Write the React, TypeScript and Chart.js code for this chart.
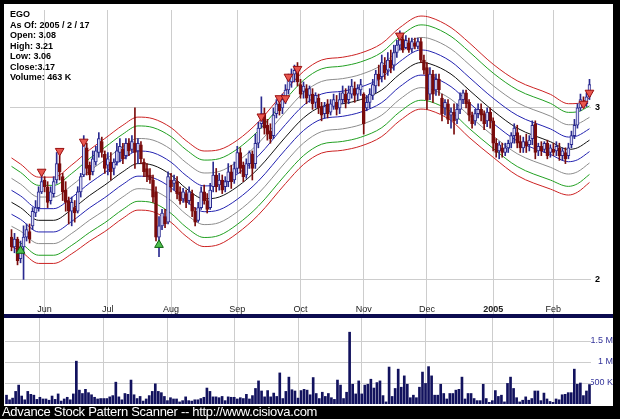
import React, { useEffect, useRef } from 'react';
import { Chart, registerables } from 'chart.js';
Chart.register(...registerables);

const FONT = "'Liberation Sans', Arial, sans-serif";
const HOLIDAYS = ['2004-05-31', '2004-06-11', '2004-07-05', '2004-09-06', '2004-11-25', '2004-12-24', '2005-01-17'];
const monthLabels = ['Jun', 'Jul', 'Aug', 'Sep', 'Oct', 'Nov', 'Dec', '2005', 'Feb'];
const priceTicks = [2, 3];
const volumeTicks = [500000, 1000000, 1500000];
const volumeTickLabels = ['500 K', '1 M', '1.5 M'];
const infoLines = ['EGO', 'As Of: 2005 / 2 / 17', 'Open: 3.08', 'High: 3.21', 'Low: 3.06', 'Close:3.17', 'Volume: 463 K'];
const footerText = 'Advance Stock Pattern Scanner -- http://www.cisiova.com';

const openP = [
  2.21, 2.16, 2.20, 2.10, 2.16, 2.21, 2.24, 2.27, 2.34, 2.37,
  2.46, 2.53, 2.49, 2.41, 2.45, 2.53, 2.63, 2.55, 2.47, 2.41,
  2.35, 2.37, 2.35, 2.46, 2.56, 2.73, 2.62, 2.58, 2.64, 2.70,
  2.77, 2.69, 2.62, 2.64, 2.60, 2.64, 2.70, 2.72, 2.68, 2.76,
  2.72, 2.76, 2.71, 2.75, 2.64, 2.60, 2.56, 2.53, 2.46, 2.21,
  2.27, 2.32, 2.29, 2.53, 2.51, 2.52, 2.46, 2.42, 2.45, 2.41,
  2.45, 2.35, 2.30, 2.37, 2.46, 2.41, 2.37, 2.49, 2.56, 2.50,
  2.53, 2.49, 2.52, 2.58, 2.53, 2.60, 2.70, 2.62, 2.56, 2.63,
  2.69, 2.63, 2.76, 2.89, 2.96, 2.88, 2.84, 2.81, 2.96, 3.03,
  3.00, 3.06, 3.13, 3.19, 3.25, 3.28, 3.17, 3.12, 3.14, 3.09,
  3.10, 3.04, 3.07, 3.01, 2.96, 3.03, 2.97, 3.01, 3.04, 3.00,
  3.06, 3.10, 3.06, 3.10, 3.14, 3.10, 3.13, 3.10, 3.00, 3.04,
  3.09, 3.16, 3.25, 3.23, 3.32, 3.28, 3.36, 3.32, 3.42, 3.48,
  3.53, 3.46, 3.50, 3.45, 3.50, 3.47, 3.51, 3.36, 3.30, 3.10,
  3.25, 3.13, 3.21, 3.07, 3.00, 3.03, 2.95, 2.97, 2.92, 2.99,
  3.06, 3.11, 3.04, 2.95, 2.91, 2.96, 2.99, 2.96, 2.91, 2.97,
  2.91, 2.76, 2.71, 2.73, 2.70, 2.73, 2.76, 2.81, 2.83, 2.77,
  2.73, 2.77, 2.75, 2.79, 2.89, 2.71, 2.74, 2.72, 2.76, 2.70,
  2.72, 2.71, 2.73, 2.68, 2.70, 2.68, 2.75, 2.81, 2.88, 3.00,
  3.04, 3.03, 3.08,
];
const highP = [
  2.25, 2.23, 2.21, 2.19, 2.27, 2.28, 2.28, 2.37, 2.41, 2.49,
  2.56, 2.55, 2.52, 2.49, 2.55, 2.70, 2.68, 2.57, 2.52, 2.43,
  2.43, 2.41, 2.49, 2.57, 2.81, 2.76, 2.64, 2.71, 2.74, 2.83,
  2.80, 2.71, 2.70, 2.70, 2.66, 2.76, 2.79, 2.76, 2.79, 2.79,
  2.81, 3.00, 2.79, 2.77, 2.66, 2.63, 2.60, 2.56, 2.49, 2.32,
  2.36, 2.36, 2.58, 2.57, 2.56, 2.55, 2.49, 2.48, 2.47, 2.49,
  2.47, 2.37, 2.40, 2.49, 2.50, 2.45, 2.51, 2.64, 2.60, 2.57,
  2.56, 2.55, 2.63, 2.62, 2.64, 2.74, 2.73, 2.64, 2.66, 2.71,
  2.71, 2.82, 2.90, 3.08, 3.00, 2.92, 2.89, 3.00, 3.06, 3.08,
  3.10, 3.17, 3.25, 3.29, 3.32, 3.34, 3.21, 3.19, 3.17, 3.16,
  3.14, 3.11, 3.10, 3.04, 3.04, 3.06, 3.06, 3.10, 3.09, 3.11,
  3.16, 3.14, 3.16, 3.21, 3.19, 3.17, 3.21, 3.11, 3.09, 3.14,
  3.21, 3.28, 3.32, 3.40, 3.38, 3.42, 3.44, 3.48, 3.52, 3.60,
  3.57, 3.56, 3.54, 3.54, 3.54, 3.54, 3.54, 3.40, 3.34, 3.30,
  3.28, 3.25, 3.25, 3.10, 3.06, 3.06, 3.00, 3.03, 3.03, 3.11,
  3.13, 3.13, 3.06, 2.97, 2.99, 3.03, 3.03, 2.98, 3.00, 3.00,
  2.93, 2.79, 2.77, 2.76, 2.76, 2.78, 2.83, 2.89, 2.88, 2.81,
  2.80, 2.82, 2.81, 2.91, 2.91, 2.76, 2.77, 2.77, 2.78, 2.75,
  2.76, 2.77, 2.76, 2.73, 2.73, 2.76, 2.84, 2.92, 3.03, 3.10,
  3.08, 3.11, 3.21,
];
const lowP = [
  2.14, 2.13, 2.07, 2.08, 2.00, 2.19, 2.18, 2.25, 2.32, 2.35,
  2.45, 2.46, 2.37, 2.39, 2.43, 2.51, 2.53, 2.41, 2.35, 2.28,
  2.27, 2.29, 2.34, 2.43, 2.55, 2.56, 2.53, 2.56, 2.62, 2.67,
  2.67, 2.57, 2.56, 2.53, 2.56, 2.62, 2.64, 2.63, 2.66, 2.68,
  2.70, 2.60, 2.63, 2.63, 2.55, 2.52, 2.51, 2.40, 2.19, 2.11,
  2.25, 2.26, 2.28, 2.46, 2.47, 2.42, 2.39, 2.40, 2.37, 2.39,
  2.32, 2.27, 2.29, 2.36, 2.39, 2.34, 2.36, 2.46, 2.46, 2.47,
  2.45, 2.46, 2.49, 2.48, 2.51, 2.57, 2.57, 2.52, 2.54, 2.60,
  2.53, 2.60, 2.73, 2.86, 2.82, 2.78, 2.76, 2.79, 2.93, 2.95,
  2.96, 3.03, 3.10, 3.15, 3.19, 3.16, 3.07, 3.07, 3.03, 3.04,
  2.99, 3.00, 2.96, 2.91, 2.93, 2.93, 2.95, 2.99, 2.95, 2.96,
  3.03, 3.00, 3.03, 3.07, 3.04, 3.06, 3.09, 2.82, 2.98, 3.00,
  3.06, 3.11, 3.16, 3.19, 3.21, 3.24, 3.26, 3.28, 3.38, 3.44,
  3.42, 3.45, 3.42, 3.42, 3.45, 3.45, 3.34, 3.25, 2.99, 3.06,
  3.04, 3.09, 3.09, 2.91, 2.95, 2.89, 2.86, 2.82, 2.89, 2.96,
  3.03, 3.00, 2.91, 2.86, 2.88, 2.93, 2.91, 2.85, 2.87, 2.86,
  2.71, 2.67, 2.66, 2.67, 2.68, 2.70, 2.73, 2.76, 2.73, 2.70,
  2.70, 2.70, 2.71, 2.75, 2.66, 2.68, 2.68, 2.70, 2.66, 2.67,
  2.68, 2.68, 2.65, 2.65, 2.63, 2.66, 2.73, 2.79, 2.86, 2.98,
  3.00, 3.01, 3.06,
];
const closeP = [
  2.16, 2.20, 2.09, 2.16, 2.21, 2.25, 2.20, 2.35, 2.37, 2.46,
  2.52, 2.49, 2.40, 2.46, 2.52, 2.63, 2.58, 2.46, 2.40, 2.35,
  2.40, 2.34, 2.46, 2.55, 2.76, 2.60, 2.56, 2.66, 2.71, 2.79,
  2.70, 2.60, 2.66, 2.58, 2.64, 2.71, 2.74, 2.66, 2.76, 2.71,
  2.77, 2.70, 2.76, 2.66, 2.58, 2.55, 2.53, 2.43, 2.21, 2.27,
  2.34, 2.28, 2.55, 2.49, 2.53, 2.45, 2.41, 2.46, 2.40, 2.46,
  2.35, 2.29, 2.37, 2.46, 2.41, 2.36, 2.47, 2.56, 2.49, 2.53,
  2.47, 2.52, 2.58, 2.52, 2.60, 2.70, 2.60, 2.55, 2.63, 2.70,
  2.60, 2.76, 2.86, 2.96, 2.86, 2.82, 2.79, 2.95, 3.03, 2.98,
  3.06, 3.13, 3.21, 3.25, 3.28, 3.19, 3.10, 3.16, 3.07, 3.14,
  3.03, 3.09, 3.00, 2.95, 3.01, 2.96, 3.03, 3.06, 2.99, 3.06,
  3.11, 3.04, 3.11, 3.16, 3.09, 3.14, 3.17, 2.89, 3.04, 3.10,
  3.17, 3.25, 3.21, 3.34, 3.26, 3.36, 3.30, 3.42, 3.48, 3.54,
  3.44, 3.52, 3.44, 3.51, 3.47, 3.51, 3.36, 3.28, 3.06, 3.25,
  3.10, 3.21, 3.13, 2.96, 3.04, 2.92, 2.97, 2.91, 2.99, 3.06,
  3.11, 3.03, 2.95, 2.89, 2.96, 2.99, 2.95, 2.89, 2.97, 2.91,
  2.76, 2.70, 2.75, 2.70, 2.73, 2.76, 2.81, 2.86, 2.76, 2.73,
  2.77, 2.74, 2.78, 2.88, 2.70, 2.74, 2.71, 2.76, 2.68, 2.73,
  2.70, 2.74, 2.68, 2.71, 2.66, 2.73, 2.81, 2.88, 3.00, 3.06,
  3.02, 3.08, 3.17,
];
const volumeK = [
  210, 100, 140, 300, 450, 190, 100, 300, 230, 210,
  110, 160, 120, 120, 90, 190, 110, 240, 70, 120,
  160, 100, 240, 1020, 330, 250, 350, 270, 220, 160,
  120, 130, 130, 130, 170, 200, 520, 170, 100, 250,
  230, 570, 220, 130, 180, 70, 120, 200, 300, 480,
  300, 270, 180, 80, 150, 120, 120, 50, 80, 170,
  80, 70, 100, 100, 130, 160, 380, 300, 170, 170,
  150, 180, 80, 170, 160, 160, 120, 150, 130, 230,
  120, 200, 370, 550, 310, 170, 320, 170, 260, 180,
  740, 130, 300, 640, 340, 310, 140, 320, 350, 330,
  220, 630, 250, 130, 280, 180, 250, 150, 110, 570,
  450, 130, 280, 1710, 470, 240, 550, 240, 450, 470,
  590, 380, 510, 550, 200, 50, 880, 180, 370, 830,
  400, 670, 470, 150, 210, 150, 400, 760, 490, 890,
  670, 210, 210, 470, 250, 120, 250, 250, 330, 350,
  640, 120, 250, 250, 130, 80, 80, 470, 130, 40,
  80, 320, 180, 210, 50, 490, 640, 370, 150, 50,
  90, 170, 90, 130, 310, 310, 80, 260, 120, 60,
  40, 120, 100, 220, 230, 270, 270, 830, 470, 500,
  200, 310, 463,
];
const sellIdx = [10, 16, 24, 83, 89, 91, 92, 95, 129, 190, 192];
const sellVal = [2.58, 2.71, 2.77, 2.94, 3.07, 3.07, 3.23, 3.29, 3.56, 3.03, 3.11];
const buyIdx = [3, 49];
const buyVal = [2.14, 2.17];

const bandIdx = [0, 3, 9, 14, 20, 26, 31, 37, 42, 47, 53, 58, 64, 69, 75, 82, 91, 97, 103, 110, 116, 123, 129, 136, 139, 146, 152, 160, 168, 179, 185, 188, 192];
const bandMid = [2.40, 2.37, 2.30, 2.30, 2.36, 2.44, 2.50, 2.58, 2.63, 2.62, 2.56, 2.48, 2.42, 2.43, 2.49, 2.60, 2.80, 2.93, 3.01, 3.03, 3.06, 3.13, 3.25, 3.34, 3.33, 3.25, 3.13, 2.98, 2.86, 2.77, 2.72, 2.73, 2.78];
const bandSpread = [10.5, 10.3, 10.2, 10.2, 10.5, 10.8, 11, 11, 11, 11, 11.2, 11.3, 11.3, 11.2, 11, 11, 11, 11, 11, 11, 11, 11, 11, 11, 11, 11, 11.2, 11, 11.2, 11.2, 10.8, 10.5, 10];
const bandLevels = [1, 0.81, 0.54, 0.27, 0, -0.27, -0.54, -0.81, -1];
const bandColors = ['#cc2222', '#22a022', '#8c8c8c', '#2222b0', '#111111', '#2222b0', '#8c8c8c', '#22a022', '#cc2222'];

const N = closeP.length;

function tradingDays(n: number): string[] {
  const out: string[] = [];
  const d = new Date(Date.UTC(2004, 4, 14));
  while (out.length < n) {
    const dow = d.getUTCDay();
    const iso = d.toISOString().slice(0, 10);
    if (dow !== 0 && dow !== 6 && !HOLIDAYS.includes(iso)) out.push(iso);
    d.setUTCDate(d.getUTCDate() + 1);
  }
  return out;
}
const categories = tradingDays(N);
const monthIdx: number[] = [];
categories.forEach((c, i) => {
  if (i > 0 && c.slice(5, 7) !== categories[i - 1].slice(5, 7)) monthIdx.push(i);
});
const monthLabelAt: Record<number, string> = {};
monthIdx.forEach((idx, j) => { monthLabelAt[idx] = monthLabels[j]; });

const GRID = '#cdcdcd';

export default function App() {
  const priceRef = useRef<HTMLCanvasElement>(null);
  const volRef = useRef<HTMLCanvasElement>(null);

  useEffect(() => {
    const up = closeP.map((c, i) => c >= openP[i]);
    const wicks = lowP.map((l, i) => [l, highP[i]]);
    const bodies = openP.map((o, i) => (Math.abs(o - closeP[i]) < 0.004 ? [o - 0.002, o + 0.002] : [o, closeP[i]]));
    const bandData = bandLevels.map((lv) => {
      const arr: (number | null)[] = new Array(N).fill(null);
      bandIdx.forEach((idx, j) => { arr[idx] = bandMid[j] * Math.exp((lv * bandSpread[j]) / 100); });
      return arr;
    });
    const sellData: (number | null)[] = new Array(N).fill(null);
    sellIdx.forEach((idx, j) => { sellData[idx] = sellVal[j]; });
    const buyData: (number | null)[] = new Array(N).fill(null);
    buyIdx.forEach((idx, j) => { buyData[idx] = buyVal[j]; });

    const xMonthTicks = (s: any) => { s.ticks = monthIdx.map((v) => ({ value: v })); };

    const priceChart = new Chart(priceRef.current as HTMLCanvasElement, {
      type: 'bar',
      data: {
        labels: categories,
        datasets: [
          {
            type: 'line', label: 'sell', data: sellData, showLine: false, pointStyle: 'triangle', rotation: 180,
            pointRadius: 5, backgroundColor: '#e8564e', borderColor: '#9a1010', borderWidth: 1, order: 0,
          } as any,
          {
            type: 'line', label: 'buy', data: buyData, showLine: false, pointStyle: 'triangle', rotation: 0,
            pointRadius: 5, backgroundColor: '#4cc04c', borderColor: '#106010', borderWidth: 1, order: 0,
          } as any,
          {
            type: 'bar', label: 'body', data: bodies, grouped: false, barThickness: 3,
            backgroundColor: up.map((u) => (u ? '#dcdcf6' : '#7a0c0c')),
            borderColor: up.map((u) => (u ? '#2a2a90' : '#7a0c0c')),
            borderWidth: 1, borderSkipped: false, order: 1,
          } as any,
          {
            type: 'bar', label: 'wick', data: wicks, grouped: false, barThickness: 1,
            backgroundColor: up.map((u) => (u ? '#2a2a90' : '#7a0c0c')), order: 2,
          } as any,
          ...bandData.map((d, k) => ({
            type: 'line', label: 'band' + k, data: d, borderColor: bandColors[k], borderWidth: 1,
            pointRadius: 0, spanGaps: true, cubicInterpolationMode: 'monotone', order: 5,
          } as any)),
        ],
      },
      options: {
        responsive: false,
        animation: false,
        events: [],
        layout: { padding: { left: 1, right: 0, top: 0, bottom: 0 } },
        plugins: { legend: { display: false }, tooltip: { enabled: false } },
        scales: {
          x: {
            type: 'category',
            offset: true,
            afterBuildTicks: xMonthTicks,
            afterFit: (s: any) => { s.height = 18; s.paddingLeft = 0; s.paddingRight = 0; },
            grid: { color: GRID, offset: false, tickLength: 18, drawTicks: true },
            border: { display: false },
            ticks: {
              autoSkip: false, maxRotation: 0, minRotation: 0, padding: -10, color: '#222',
              callback: (v: any) => monthLabelAt[v] ?? '',
              font: (ctx: any) => ({ family: FONT, size: 9, weight: ctx.tick && ctx.tick.label === '2005' ? 'bold' : 'normal' }),
            },
          },
          y: {
            type: 'logarithmic',
            position: 'right',
            min: 1.923,
            max: 3.782,
            afterBuildTicks: (s: any) => { s.ticks = priceTicks.map((v) => ({ value: v })); },
            afterFit: (s: any) => { s.width = 22; s.paddingTop = 0; s.paddingBottom = 0; },
            grid: { color: GRID, drawTicks: false },
            border: { display: false },
            ticks: { callback: (v: any) => String(v), color: '#000', padding: 4, font: { family: FONT, size: 9, weight: 'bold' } },
          },
        },
      } as any,
    });

    const volChart = new Chart(volRef.current as HTMLCanvasElement, {
      type: 'bar',
      data: {
        labels: categories,
        datasets: [
          { label: 'Volume', data: volumeK.map((v) => v * 1000), backgroundColor: '#12125e', barThickness: 2 } as any,
        ],
      },
      options: {
        responsive: false,
        animation: false,
        events: [],
        layout: { padding: { left: 1, right: 0, top: 0, bottom: 0 } },
        plugins: { legend: { display: false }, tooltip: { enabled: false } },
        scales: {
          x: {
            type: 'category',
            offset: true,
            afterBuildTicks: xMonthTicks,
            afterFit: (s: any) => { s.height = 2; s.paddingLeft = 0; s.paddingRight = 0; },
            grid: { color: GRID, offset: false, drawTicks: false },
            border: { display: false },
            ticks: { display: false },
          },
          y: {
            type: 'linear',
            position: 'right',
            min: 0,
            max: 2048000,
            afterBuildTicks: (s: any) => { s.ticks = volumeTicks.map((v) => ({ value: v })); },
            afterFit: (s: any) => { s.width = 22; s.paddingTop = 0; s.paddingBottom = 0; },
            grid: { color: GRID, drawTicks: false },
            border: { display: false },
            ticks: {
              crossAlign: 'far', padding: 0, color: '#34349a',
              font: { family: FONT, size: 9 },
              callback: (v: any) => volumeTickLabels[volumeTicks.indexOf(v)] ?? '',
            },
          },
        },
      } as any,
    });

    return () => { priceChart.destroy(); volChart.destroy(); };
  }, []);

  return (
    <div style={{ position: 'fixed', left: 0, top: 0, width: 620, height: 419, background: '#000', overflow: 'hidden' }}>
      <div style={{ position: 'absolute', left: 4, top: 4, width: 609, height: 310, background: '#fff' }}>
        <canvas ref={priceRef} width={609} height={310} style={{ display: 'block' }} />
        <div style={{ position: 'absolute', left: 6, top: 5, font: `bold 9px ${FONT}`, lineHeight: '10.5px', color: '#000', whiteSpace: 'pre' }}>
          {infoLines.map((t) => (<div key={t}>{t}</div>))}
        </div>
      </div>
      <div style={{ position: 'absolute', left: 4, top: 314, width: 609, height: 4, background: '#0c0c50' }} />
      <div style={{ position: 'absolute', left: 4, top: 318, width: 609, height: 88, background: '#fff' }}>
        <canvas ref={volRef} width={609} height={88} style={{ display: 'block' }} />
      </div>
      <div style={{ position: 'absolute', left: 2, top: 405, color: '#fff', font: `13px ${FONT}`, letterSpacing: '-0.3px', lineHeight: '14px', whiteSpace: 'pre' }}>
        {footerText}
      </div>
    </div>
  );
}
